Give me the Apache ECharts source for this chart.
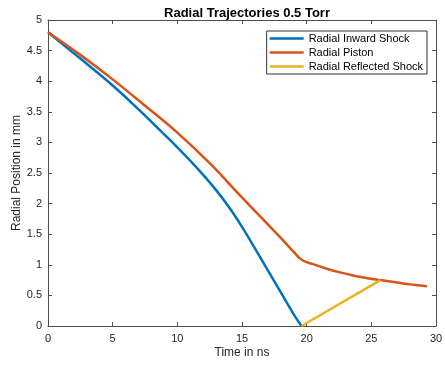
<!DOCTYPE html>
<html>
<head>
<meta charset="utf-8">
<script src="https://cdn.jsdelivr.net/npm/echarts@6/dist/echarts.min.js"></script>
<style>
html,body{margin:0;padding:0;background:#fff;}
#c{width:445px;height:370px;}
</style>
</head>
<body>
<div id="c"></div>
<script>
var chartTitle = 'Radial Trajectories 0.5 Torr';
var xAxisName = 'Time in ns';
var yAxisName = 'Radial Position in mm';
var seriesNames = ['Radial Inward Shock', 'Radial Piston', 'Radial Reflected Shock'];

var inwardT = [0, 2.5, 5, 7, 8.75, 10, 11, 12, 13, 14, 15, 16, 17, 18, 19, 19.6];
var inwardR = [4.8, 4.37, 3.93, 3.54, 3.18, 2.92, 2.70, 2.47, 2.22, 1.94, 1.62, 1.27, 0.91, 0.55, 0.19, 0];

var pistonT = [0, 2.5, 5, 7.5, 10, 12.5, 15, 16.5, 18, 19, 19.4, 19.8, 20.5, 21.5, 22.5, 23.5, 24.5, 25.7, 27, 28, 29.3];
var pistonR = [4.8, 4.43, 4.03, 3.6, 3.16, 2.66, 2.1, 1.77, 1.44, 1.21, 1.12, 1.06, 1.01, 0.94, 0.88, 0.83, 0.79, 0.75, 0.71, 0.68, 0.65];

var reflectedT = [19.6, 25.7];
var reflectedR = [0, 0.75];

var colors = ['#0072BD', '#D95319', '#EDB120'];

function pairs(t, r) { return t.map(function (v, i) { return [v, r[i]]; }); }

var chart = echarts.init(document.getElementById('c'));
var axisCol = '#4d4d4d';
var fontFam = '"Liberation Sans", Arial, Helvetica, sans-serif';
var baseAxis = {
  type: 'value',
  axisLine: { show: true, onZero: false, lineStyle: { color: axisCol, width: 1 } },
  axisTick: { show: true, inside: true, length: 4, lineStyle: { color: axisCol } },
  splitLine: { show: false }
};
chart.setOption({
  animation: false,
  textStyle: { fontFamily: fontFam },
  title: {
    text: chartTitle, left: 242, top: 2, textAlign: 'center',
    textStyle: { fontSize: 13, fontWeight: 'bold', color: '#000', fontFamily: fontFam }
  },
  legend: {
    orient: 'vertical', right: 18, top: 31,
    icon: 'rect',
    itemWidth: 34, itemHeight: 2.5, itemGap: 3,
    padding: [2, 4, 2, 3],
    borderColor: '#333', borderWidth: 1, borderRadius: 0,
    backgroundColor: '#fff',
    textStyle: { fontSize: 11, color: '#000', fontFamily: fontFam },
    data: seriesNames
  },
  grid: { left: 48, right: 9, top: 20, bottom: 44, containLabel: false, outerBoundsMode: 'none' },
  xAxis: [
    Object.assign({}, baseAxis, {
      min: 0, max: 30, interval: 5, position: 'bottom',
      name: xAxisName, nameLocation: 'middle', nameGap: 21, nameMoveOverlap: false,
      nameTextStyle: { fontSize: 12, color: '#262626' },
      axisLabel: { fontSize: 11, color: '#262626', margin: 7 }
    }),
    Object.assign({}, baseAxis, {
      min: 0, max: 30, interval: 5, position: 'top', axisLabel: { show: false }
    })
  ],
  yAxis: [
    Object.assign({}, baseAxis, {
      min: 0, max: 5, interval: 0.5, position: 'left',
      name: yAxisName, nameLocation: 'middle', nameGap: 25, nameMoveOverlap: false,
      nameTextStyle: { fontSize: 12, color: '#262626' },
      axisLabel: { fontSize: 11, color: '#262626', margin: 6 }
    }),
    Object.assign({}, baseAxis, {
      min: 0, max: 5, interval: 0.5, position: 'right', axisLabel: { show: false }
    })
  ],
  series: [
    { name: seriesNames[0], type: 'line', symbol: 'none', smooth: 0.4, data: pairs(inwardT, inwardR),
      lineStyle: { color: colors[0], width: 2.5 }, itemStyle: { color: colors[0] } },
    { name: seriesNames[1], type: 'line', symbol: 'none', smooth: 0.4, data: pairs(pistonT, pistonR),
      lineStyle: { color: colors[1], width: 2.5 }, itemStyle: { color: colors[1] } },
    { name: seriesNames[2], type: 'line', symbol: 'none', data: pairs(reflectedT, reflectedR),
      lineStyle: { color: colors[2], width: 2.5 }, itemStyle: { color: colors[2] } }
  ]
});
</script>
</body>
</html>
